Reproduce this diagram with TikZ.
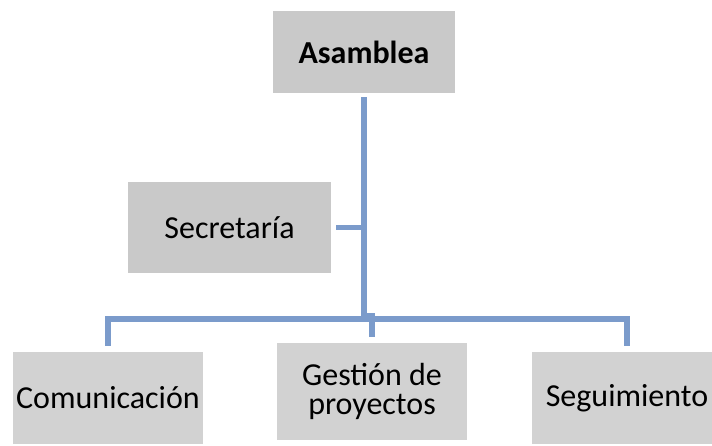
\documentclass[tikz,border=0pt]{standalone}
\usepackage{fontspec}
\setmainfont{Carlito}
\definecolor{boxA}{RGB}{201,201,201}
\definecolor{boxB}{RGB}{210,210,210}
\definecolor{conncol}{RGB}{123,155,203}
\begin{document}
\begin{tikzpicture}[x=1pt,y=-1pt,
  orgbox/.style={rectangle, inner sep=0pt, align=center, font=\fontsize{32}{29}\selectfont},
  conn/.style={draw=conncol, line width=5.2pt, line join=miter, line cap=butt}]
\useasboundingbox (0,0) rectangle (712,445);
\begin{scope}
\clip (0,0) rectangle (712,445);
\node[orgbox, fill=boxA, minimum width=182pt, minimum height=82pt] (asam) at (364,52) {\textbf{Asamblea}};
\node[orgbox, fill=boxA, minimum width=203pt, minimum height=91pt] (sec) at (229.5,227.5) {Secretaría};
\node[orgbox, fill=boxB, minimum width=190pt, minimum height=92pt] (com) at (108,398) {Comunicación};
\node[orgbox, fill=boxB, minimum width=190pt, minimum height=97pt] (ges) at (372,391.5) {Gestión de\\proyectos};
\node[orgbox, fill=boxB, minimum width=190pt, minimum height=92pt] (seg) at (627,398) {Seguimiento};
\end{scope}
\coordinate (bus) at (364,319);
\coordinate (hook) at (364,316);
\draw[conn, shorten <=4pt] (asam.south) -- (hook);
\draw[conn, shorten >=6pt] (hook) -| (ges.north);
\draw[conn, shorten <=6pt, shorten >=6pt] (com.north) |- (bus) -| (seg.north);
\draw[conn, shorten <=5pt] (sec.east) -- (sec.east -| asam.south);
\end{tikzpicture}
\end{document}
